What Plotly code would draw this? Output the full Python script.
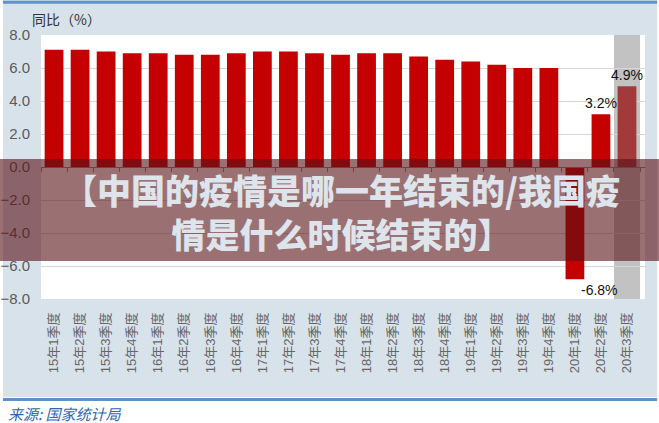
import plotly.graph_objects as go

##########
# Inputs #
##########

QUARTERS = [
    "15年1季度", "15年2季度", "15年3季度", "15年4季度",
    "16年1季度", "16年2季度", "16年3季度", "16年4季度",
    "17年1季度", "17年2季度", "17年3季度", "17年4季度",
    "18年1季度", "18年2季度", "18年3季度", "18年4季度",
    "19年1季度", "19年2季度", "19年3季度", "19年4季度",
    "20年1季度", "20年2季度", "20年3季度",
]
GDP_YOY = [
    7.1, 7.1, 7.0, 6.9,
    6.9, 6.8, 6.8, 6.9,
    7.0, 7.0, 6.9, 6.8,
    6.9, 6.9, 6.7, 6.5,
    6.4, 6.2, 6.0, 6.0,
    -6.8, 3.2, 4.9,
]
LABELLED = ["20年1季度", "20年2季度", "20年3季度"]
Y_TICKS = [-8, -6, -4, -2, 0, 2, 4, 6, 8]

TITLE = "【中国的疫情是哪一年结束的/我国疫<br>情是什么时候结束的】"
SOURCE = "来源: 国家统计局"

BG = "#d8e2eb"
RED = "#c40000"
LAST_RED = "#a23a3c"
BLUE_LINE = "#5f93c8"
FONT = "Liberation Sans, Noto Sans CJK SC, sans-serif"

#############
# Plot data #
#############

bar_colors = [RED] * (len(QUARTERS) - 1) + [LAST_RED]

fig = go.Figure()
fig.add_trace(go.Bar(
    x=QUARTERS,
    y=GDP_YOY,
    marker=dict(color=bar_colors, line=dict(width=0)),
    showlegend=False,
    hoverinfo="x+y",
))

# value labels for the 2020 quarters
for q, v in zip(QUARTERS, GDP_YOY):
    if q not in LABELLED:
        continue
    fig.add_annotation(
        x=q, y=v, xref="x", yref="y",
        text=f"{v:.1f}%",
        showarrow=False,
        yanchor="bottom" if v >= 0 else "top",
        xshift=0 if v >= 0 else 25,
        yshift=1 if v >= 0 else -1,
        font=dict(family=FONT, size=14, color="#111111"),
    )

# invisible trace on a second x axis that sits on the zero line (gives the ticks)
fig.add_trace(go.Scatter(x=QUARTERS, y=[None] * len(QUARTERS), xaxis="x2",
                         showlegend=False, hoverinfo="skip"))

fig.update_layout(
    width=659,
    height=423,
    margin=dict(l=41, r=14, t=35, b=124),
    paper_bgcolor=BG,
    plot_bgcolor="white",
    bargap=0.28,
    font=dict(family=FONT, size=13, color="#555555"),
    xaxis=dict(
        type="category",
        tickangle=-90,
        ticks="",
        showline=False,
        showgrid=False,
        ticklabelstandoff=10,
        tickfont=dict(size=13, color="#666666"),
        automargin=False,
    ),
    xaxis2=dict(
        type="category",
        overlaying="x",
        anchor="free",
        position=0.5,
        side="bottom",
        matches="x",
        showticklabels=False,
        showline=True,
        linecolor="#8c8c8c",
        linewidth=1,
        ticks="outside",
        tickson="boundaries",
        ticklen=4,
        tickcolor="#8c8c8c",
        showgrid=False,
    ),
    yaxis=dict(
        range=[-8, 8],
        tickvals=Y_TICKS,
        tickformat=".1f",
        showgrid=True,
        gridcolor="#d6d6d6",
        gridwidth=1,
        zeroline=False,
        showline=False,
        ticks="",
        ticklabelstandoff=10,
        tickfont=dict(size=15, color="#5a5a5a"),
        automargin=False,
    ),
)

# highlight band behind the latest quarter
fig.add_shape(
    type="rect", xref="x", yref="y domain",
    x0=QUARTERS[-1], x1=QUARTERS[-1], x0shift=-0.5, x1shift=0.5,
    y0=0, y1=1,
    fillcolor="#c2c2c2", line=dict(width=0), layer="below",
)

# white page bits around the panel and blue rules
fig.add_shape(type="rect", xref="paper", yref="paper", x0=-0.2, x1=1.2, y0=-0.6, y1=-0.371,
              fillcolor="white", line=dict(width=0), layer="below")
fig.add_shape(type="rect", xref="paper", yref="paper", x0=-0.2, x1=-0.063, y0=-0.6, y1=1.3,
              fillcolor="white", line=dict(width=0), layer="below")
fig.add_shape(type="rect", xref="paper", yref="paper", x0=1.02, x1=1.2, y0=-0.6, y1=1.3,
              fillcolor="white", line=dict(width=0), layer="below")
fig.add_shape(type="line", xref="paper", yref="paper", x0=-0.063, x1=1.02, y0=1.124, y1=1.124,
              line=dict(color=BLUE_LINE, width=3))
fig.add_shape(type="line", xref="paper", yref="paper", x0=-0.063, x1=1.02, y0=-0.381, y1=-0.381,
              line=dict(color=BLUE_LINE, width=3))

# axis title
fig.add_annotation(
    text="同比（%）", xref="paper", yref="paper", x=-0.018, y=1.06,
    xanchor="left", yanchor="middle", showarrow=False,
    font=dict(family="Noto Sans CJK SC", size=14, color="#333333"),
)

# source
fig.add_annotation(
    text=f"<i>{SOURCE}</i>", xref="paper", yref="paper", x=-0.058, y=-0.432,
    xanchor="left", yanchor="middle", showarrow=False,
    font=dict(family="Noto Sans CJK SC", size=15, color="#2f66b3"),
)

# translucent banner with headline
fig.add_shape(type="rect", xref="paper", yref="paper", x0=-0.2, x1=1.2, y0=0.144, y1=0.53,
              fillcolor="rgba(88,17,22,0.6)", line=dict(width=0), layer="above")
fig.add_annotation(
    text=TITLE, xref="paper", yref="paper", x=0.498, y=0.333,
    xanchor="center", yanchor="middle", showarrow=False, align="center",
    font=dict(family="Noto Sans CJK SC", size=34, color="#dde4eb", weight=900),
)

# page body has a default margin; drop it so the figure sits at the window corner
fig.write_html("out.html", config={"displayModeBar": False},
               post_script="document.body.style.margin='0';")
